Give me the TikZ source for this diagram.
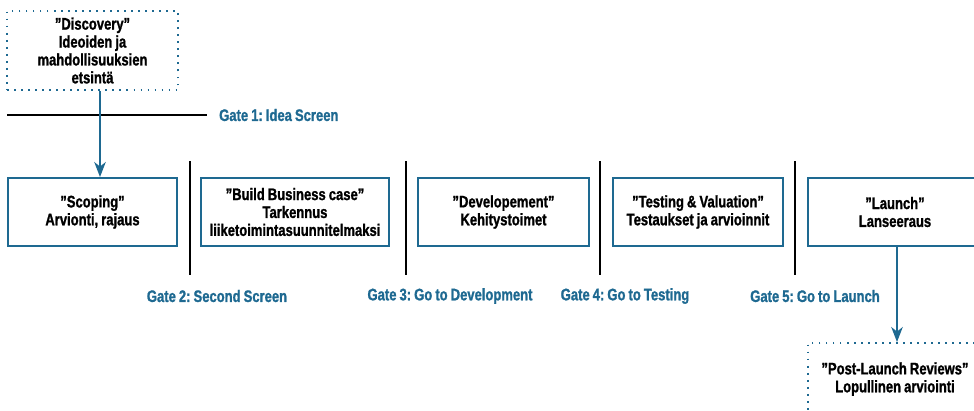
\documentclass[tikz,border=0pt]{standalone}
\usepackage{fontspec}
\setmainfont{Liberation Sans}[FakeStretch=0.78, WordSpace=0.85,
  BoldFont={Liberation Sans Bold}, BoldFeatures={FakeBold=1.2}]
\frenchspacing
\usetikzlibrary{arrows.meta}
\definecolor{stageblue}{RGB}{30,105,145}
\tikzset{
  stage/.style={draw=stageblue, line width=1.1pt, align=center, font=\bfseries\fontsize{9.5}{10.2}\selectfont},
  dotstage/.style={stage, draw=stageblue, dash pattern=on 1pt off 3pt},
  gate/.style={black, line width=1.3pt},
  gatelabel/.style={text=stageblue, font=\bfseries\fontsize{9.5}{10.2}\selectfont},
  flow/.style={draw=stageblue, line width=1.1pt, -{Stealth[length=3mm,width=2.3mm,inset=0.9mm]}}
}
\begin{document}
\begin{tikzpicture}[x=0.02cm,y=-0.02cm]
  \useasboundingbox (0,0) rectangle (974,410);
  % stages
  \node[dotstage, minimum width=171*0.02cm, minimum height=79*0.02cm] (disc) at (92.5,50.5)
    {''Discovery''\\Ideoiden ja\\mahdollisuuksien\\etsintä};
  \node[stage, minimum width=169*0.02cm, minimum height=68*0.02cm] (scope) at (92.5,212)
    {''Scoping''\\Arvionti, rajaus};
  \node[stage, minimum width=188*0.02cm, minimum height=68*0.02cm] (build) at (295,212)
    {''Build Business case''\\Tarkennus\\liiketoimintasuunnitelmaksi};
  \node[stage, minimum width=171*0.02cm, minimum height=68*0.02cm] (devel) at (503.5,212)
    {''Developement''\\Kehitystoimet};
  \node[stage, minimum width=170*0.02cm, minimum height=68*0.02cm] (test) at (698,212)
    {''Testing \& Valuation''\\Testaukset ja arvioinnit};
  \node[stage, minimum width=174*0.02cm, minimum height=68*0.02cm] (launch) at (895,212)
    {''Launch''\\Lanseeraus};
  \node[dotstage, minimum width=174*0.02cm, minimum height=72*0.02cm] (post) at (895,379)
    {''Post-Launch Reviews''\\Lopullinen arviointi};

  % gates
  \draw[gate] (7,115) coordinate (g1a) -- (207,115) coordinate (g1b);
  \node[gatelabel, anchor=west] (g1) at (213,115) {Gate 1: Idea Screen};
  \foreach \x/\name in {190/g2, 406/g3, 600/g4, 795/g5}
    \draw[gate] (\x,161) coordinate (\name top) -- (\x,275) coordinate (\name bot);
  \node[gatelabel] (g2) at (217,296) {Gate 2: Second Screen};
  \node[gatelabel] (g3) at (450,296) {Gate 3: Go to Development};
  \node[gatelabel] (g4) at (625,296) {Gate 4: Go to Testing};
  \node[gatelabel] (g5) at (815,296) {Gate 5: Go to Launch};

  % arrows
  \coordinate (a1) at (100,0);
  \coordinate (a2) at (897,0);
  \draw[flow] (disc.south -| a1) -- (scope.north -| a1);
  \draw[flow] (launch.south -| a2) -- (post.north -| a2);
\end{tikzpicture}
\end{document}
